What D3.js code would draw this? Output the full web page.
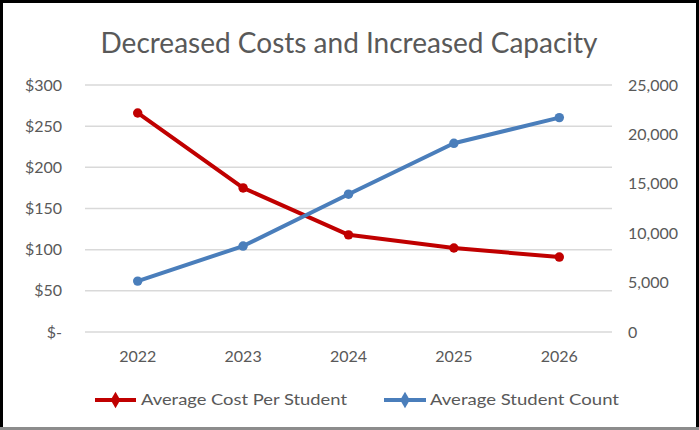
<!DOCTYPE html>
<html>
<head>
<meta charset="utf-8">
<script src="https://cdn.jsdelivr.net/npm/d3@7"></script>
<style>
  html, body { margin: 0; padding: 0; background: #fff; }
  svg { display: block; }
  text { font-family: Lato, "Open Sans", sans-serif; fill: #595959; }
</style>
</head>
<body>
<svg id="chart" width="699" height="430"></svg>
<script>
const title = "Decreased Costs and Increased Capacity";
const years = ["2022", "2023", "2024", "2025", "2026"];
const costPerStudent = [266, 175, 118, 102, 91];
const studentCount = [5150, 8700, 13950, 19100, 21700];
const leftTicks = [0, 50, 100, 150, 200, 250, 300];
const rightTicks = [0, 5000, 10000, 15000, 20000, 25000];
const seriesNames = ["Average Cost Per Student", "Average Student Count"];
const seriesColors = ["#C00000", "#4A7EBB"];

const W = 699, H = 430;
const plot = { left: 85, right: 612, top: 85, bottom: 332 };

const svg = d3.select("#chart");

// frame
svg.append("rect").attr("x", 1.5).attr("y", 1.5).attr("width", W - 3).attr("height", H - 3)
  .attr("fill", "#fff").attr("stroke", "#000").attr("stroke-width", 3);
svg.append("line").attr("x1", 0).attr("x2", W).attr("y1", H - 1.5).attr("y2", H - 1.5)
  .attr("stroke", "#8c8c8c").attr("stroke-width", 3);

const x = d3.scaleBand().domain(years).range([plot.left, plot.right]);
const yL = d3.scaleLinear().domain([0, 300]).range([plot.bottom, plot.top]);
const yR = d3.scaleLinear().domain([0, 25000]).range([plot.bottom, plot.top]);

// gridlines
svg.append("g").selectAll("line").data(leftTicks).join("line")
  .attr("x1", plot.left).attr("x2", plot.right)
  .attr("y1", d => yL(d)).attr("y2", d => yL(d))
  .attr("stroke", "#d9d9d9").attr("stroke-width", 1.5);

// left axis
const fmtL = d => d === 0 ? "$-" : "$" + d;
const leftAxis = svg.append("g").attr("transform", `translate(${62},0)`)
  .call(d3.axisLeft(yL).tickValues(leftTicks).tickFormat(fmtL).tickSize(0).tickPadding(0));
leftAxis.select(".domain").remove();

// right axis
const rightAxis = svg.append("g").attr("transform", `translate(${628},0)`)
  .call(d3.axisRight(yR).tickValues(rightTicks).tickFormat(d3.format(",")).tickSize(0).tickPadding(0));
rightAxis.select(".domain").remove();

// bottom axis
const bottomAxis = svg.append("g").attr("transform", `translate(0,${plot.bottom})`)
  .call(d3.axisBottom(x).tickSize(0).tickPadding(19));
bottomAxis.select(".domain").remove();

svg.selectAll(".tick text").attr("font-size", 16).attr("fill", "#595959")
  .style("font-family", "Lato, 'Open Sans', sans-serif");

// lines
const cx = d => x(d) + x.bandwidth() / 2;
const series = [
  { vals: costPerStudent, y: yL, color: seriesColors[0] },
  { vals: studentCount, y: yR, color: seriesColors[1] }
];
const diamond = d3.symbol().type(d3.symbolDiamond).size(80);
series.forEach(s => {
  const pts = years.map((yr, i) => [cx(yr), s.y(s.vals[i])]);
  svg.append("path").attr("d", d3.line()(pts)).attr("fill", "none")
    .attr("stroke", s.color).attr("stroke-width", 4).attr("stroke-linejoin", "round");
  svg.append("g").selectAll("path").data(pts).join("path")
    .attr("d", d3.symbol().type(d3.symbolCircle).size(70))
    .attr("transform", d => `translate(${d[0]},${d[1]})`)
    .attr("fill", s.color);
});

// title
svg.append("text").attr("x", 349).attr("y", 53).attr("text-anchor", "middle")
  .attr("font-size", 29).attr("fill", "#595959")
  .attr("textLength", 497).attr("lengthAdjust", "spacingAndGlyphs")
  .text(title);

// legend
const legendItems = [
  { name: seriesNames[0], color: seriesColors[0], x0: 95, x1: 136, tx: 141, tw: 206 },
  { name: seriesNames[1], color: seriesColors[1], x0: 384, x1: 426, tx: 430, tw: 189 }
];
const ly = 400;
legendItems.forEach(l => {
  svg.append("line").attr("x1", l.x0).attr("x2", l.x1).attr("y1", ly).attr("y2", ly)
    .attr("stroke", l.color).attr("stroke-width", 4);
  svg.append("path").attr("d", diamond).attr("transform", `translate(${(l.x0 + l.x1) / 2},${ly})`)
    .attr("fill", l.color);
  svg.append("text").attr("x", l.tx).attr("y", ly + 5).attr("font-size", 15)
    .attr("textLength", l.tw).attr("lengthAdjust", "spacingAndGlyphs")
    .text(l.name);
});
</script>
</body>
</html>
